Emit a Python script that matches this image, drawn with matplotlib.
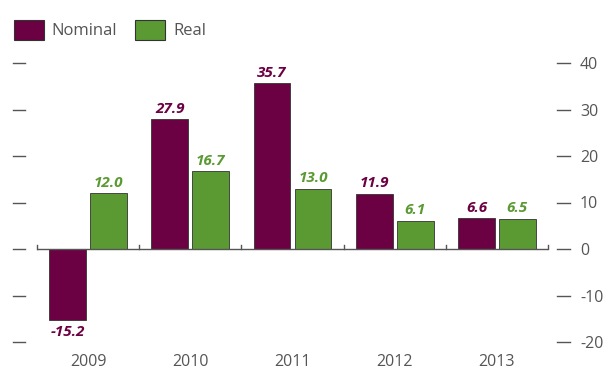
import numpy as np
import matplotlib
matplotlib.use('Agg')
import matplotlib.pyplot as plt
from matplotlib.patches import Patch
import matplotlib.transforms as mtransforms

plt.rcParams['font.family'] = ['Open Sans', 'DejaVu Sans']

# data
years = ['2009', '2010', '2011', '2012', '2013']
nominal = [-15.2, 27.9, 35.7, 11.9, 6.6]
real = [12.0, 16.7, 13.0, 6.1, 6.5]
yticks = [-20, -10, 0, 10, 20, 30, 40]

NOM_COLOR = '#6b0042'
REAL_COLOR = '#5b9a33'
TEXT_COLOR = '#555555'

fig = plt.figure(figsize=(6.04, 3.72), dpi=100)
ax = fig.add_axes([37 / 604, 30 / 372, 511 / 604, 279 / 372])

x = np.arange(len(years))
w = 0.36
gap = 0.02
ax.bar(x - w / 2 - gap, nominal, w, color=NOM_COLOR, edgecolor='#333333', linewidth=0.6, zorder=2)
ax.bar(x + w / 2 + gap, real, w, color=REAL_COLOR, edgecolor='#333333', linewidth=0.6, zorder=2)

for xi, v in zip(x, nominal):
    ax.annotate(f'{v:.1f}', (xi - w / 2 - gap, v), xytext=(0, 2.5 if v >= 0 else -4),
                textcoords='offset points', ha='center', va='bottom' if v >= 0 else 'top',
                color=NOM_COLOR, fontsize=11, fontweight='bold', fontstyle='italic')
for xi, v in zip(x, real):
    ax.annotate(f'{v:.1f}', (xi + w / 2 + gap, v), xytext=(0, 2.5 if v >= 0 else -4),
                textcoords='offset points', ha='center', va='bottom' if v >= 0 else 'top',
                color=REAL_COLOR, fontsize=11, fontweight='bold', fontstyle='italic')

ax.set_xlim(-0.5, len(years) - 0.5)
ax.set_ylim(-20, 40)
for s in ax.spines.values():
    s.set_visible(False)

# zero line with small category dividers
ax.axhline(0, color='#555555', linewidth=1, zorder=3)
for b in np.arange(-0.5, len(years), 1.0):
    ax.plot([b, b], [0, 0.9], color='#555555', linewidth=1, zorder=3, clip_on=False)

# tick dashes on both sides
trans = mtransforms.blended_transform_factory(ax.transAxes, ax.transData)
for t in yticks:
    ax.plot([-0.047, -0.0235], [t, t], transform=trans, color='#555555', linewidth=1, clip_on=False)
    ax.plot([1.0176, 1.043], [t, t], transform=trans, color='#555555', linewidth=1, clip_on=False)

ax.set_yticks(yticks)
ax.set_yticklabels([str(t) for t in yticks])
ax.tick_params(axis='y', left=False, right=False, labelleft=False, labelright=True,
               length=0, pad=23, labelsize=11.5, labelcolor=TEXT_COLOR)
ax.set_xticks(x)
ax.set_xticklabels(years)
ax.tick_params(axis='x', length=0, pad=9, labelsize=11.5, labelcolor=TEXT_COLOR)

handles = [Patch(facecolor=NOM_COLOR, edgecolor='#333333', linewidth=0.8, label='Nominal'),
           Patch(facecolor=REAL_COLOR, edgecolor='#333333', linewidth=0.8, label='Real')]
leg = fig.legend(handles=handles, loc='upper left', bbox_to_anchor=(9 / 604, 1 - 15 / 372),
                 ncol=2, frameon=False, fontsize=12, handlelength=1.8, handleheight=1.45,
                 handletextpad=0.45, columnspacing=1.1, borderaxespad=0, borderpad=0.3)
for t in leg.get_texts():
    t.set_color(TEXT_COLOR)

fig.savefig('out.png', dpi=100)
